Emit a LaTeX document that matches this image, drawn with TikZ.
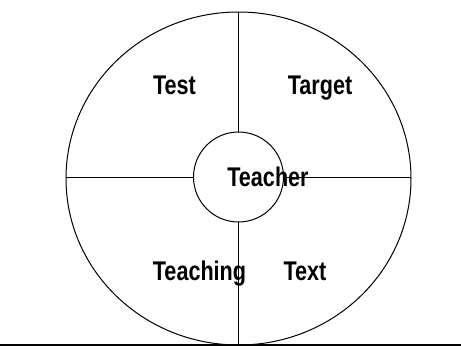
\documentclass[tikz,border=0pt]{standalone}
\usepackage{fontspec}
\setmainfont{Liberation Sans}
\usetikzlibrary{shapes.geometric}
\newcommand{\lbltxt}[1]{\scalebox{0.8}[1]{#1}}
\begin{document}
\begin{tikzpicture}[x=1pt,y=-1pt,
  ring/.style={draw,line width=1pt,inner sep=0pt,outer sep=0pt},
  spoke/.style={line width=1pt},
  word/.style={inner sep=0pt,anchor=base,font=\fontsize{27}{27}\selectfont\bfseries}]
\useasboundingbox (0,0) rectangle (461,349);
\node[ring,ellipse,minimum width=345,minimum height=333] (outer) at (238.5,178.5) {};
\node[ring,circle,minimum size=90] (inner) at (238.5,177) {};
\draw[spoke] (inner.north) -- (inner.north |- outer.north);
\draw[spoke] (inner.south) -- (inner.south |- outer.south);
\draw[spoke] (inner.west) -- (inner.west -| outer.west);
\draw[spoke] (inner.east) -- (inner.east -| outer.east);
\node[word] (test) at (174.5,94.5) {\lbltxt{Test}};
\node[word] (target) at (320,94.5) {\lbltxt{Target}};
\node[word] (teacher) at (268,186.5) {\lbltxt{Teacher}};
\node[word] (teaching) at (199.5,280) {\lbltxt{Teaching}};
\node[word] (text) at (305,280) {\lbltxt{Text}};
\coordinate (bl) at (0,345);
\coordinate (br) at (461,345);
\draw[line width=1.3pt] (bl) -- (br);
\end{tikzpicture}
\end{document}
